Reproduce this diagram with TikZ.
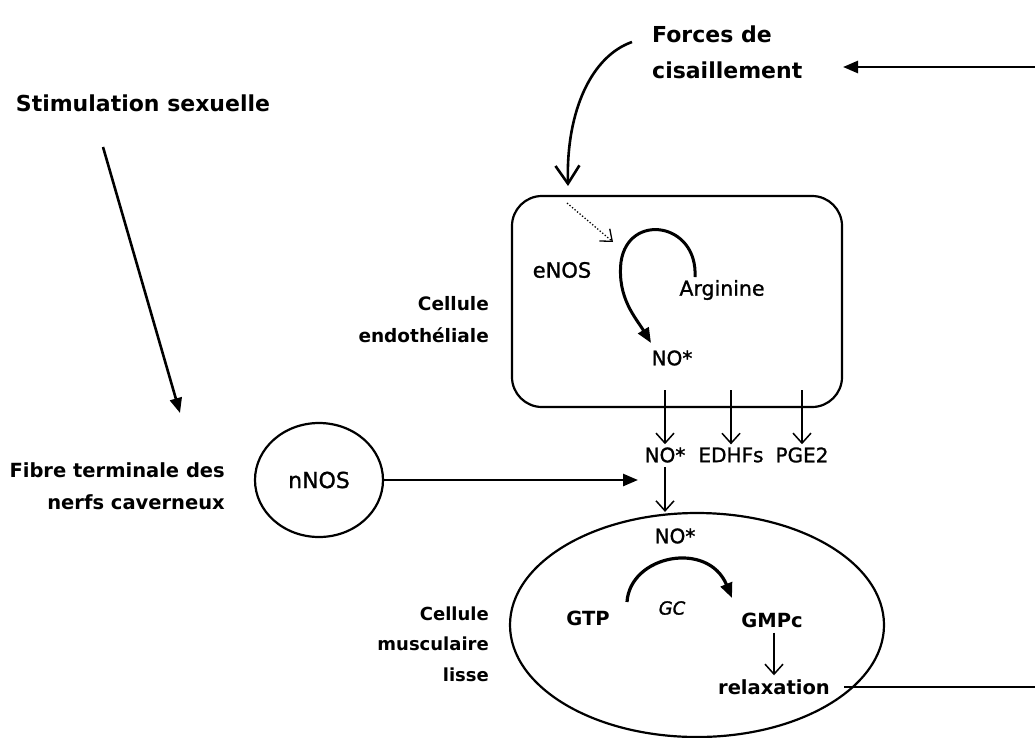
\documentclass[tikz,border=0pt]{standalone}
\usepackage{fontspec}
\setmainfont{DejaVu Sans}
\newfontfamily\medfont[FakeBold=1.2]{DejaVu Sans}
\usetikzlibrary{arrows.meta,shapes.geometric}
\tikzset{
  lbl/.style={font=\fontsize{19.5}{32}\selectfont\bfseries, inner sep=0pt},
  lblr/.style={font=\medfont\fontsize{20}{32}\selectfont, inner sep=0pt},
  thickarr/.style={line width=2.6pt, -{Triangle[length=15pt,width=12pt]}},
  thinarr/.style={line width=1.5pt, -{Straight Barb[length=10pt,width=18pt,line width=1.5pt]}},
  outline/.style={draw, line width=2.2pt}
}
\begin{document}
\begin{tikzpicture}[x=1pt,y=-1pt]
\useasboundingbox (0,0) rectangle (1035,737);

% texts
\node[lbl, font=\fontsize{22}{36}\selectfont\bfseries] (stim) at (143,103) {Stimulation sexuelle};
\node[lbl, font=\fontsize{22}{36}\selectfont\bfseries, align=left, anchor=west] (forces) at (652,52) {Forces de\\cisaillement};
\node[lbl, font=\fontsize{18.5}{32}\selectfont\bfseries, align=right, anchor=east] (cendo) at (489,320) {Cellule\\endothéliale};
\node[lbl, align=right, anchor=east] (fibre) at (225,486) {Fibre terminale des\\nerfs caverneux};
\node[lbl, font=\fontsize{18}{30.5}\selectfont\bfseries, align=right, anchor=east] (cmus) at (489,644) {Cellule\\musculaire\\lisse};

% endothelial cell
\node[outline, rounded corners=30pt, minimum width=330pt, minimum height=211pt] (endo) at (677,301.5) {};
\node[lblr, font=\medfont\fontsize{21}{24}\selectfont] (enos) at (562,270) {eNOS};
\node[lblr, font=\medfont\fontsize{20.5}{24}\selectfont] (arg) at (722,290) {Arginine};
\node[lblr] (noA) at (672,358) {NO*};

% products
\node[lblr] (noB) at (665,455) {NO*};
\node[lblr] (edhf) at (731,455) {EDHFs};
\node[lblr] (pge) at (802,455) {PGE2};

% smooth muscle cell
\node[outline, ellipse, minimum width=374pt, minimum height=224pt] (musc) at (697,625) {};
\node[lblr] (noC) at (675,536) {NO*};
\node[lbl] (gtp) at (588,618) {GTP};
\node[font=\medfont\fontsize{18}{20}\selectfont\itshape, inner sep=0pt] (gc) at (672,608) {GC};
\node[lbl] (gmpc) at (772,620) {GMPc};
\node[lbl] (relax) at (774,687) {relaxation};

% nerve
\node[outline, ellipse, minimum width=128pt, minimum height=114pt, font=\medfont\fontsize{22}{24}\selectfont] (nnos) at (319,480) {nNOS};

% coordinates for free ends
\coordinate (rtop) at (1035,67);
\coordinate (ftip) at (843,67);
\coordinate (rbot) at (1035,687);
\coordinate (fstart) at (632,42);
\coordinate (fend) at (568,186);
\coordinate (stimstart) at (103,147);
\coordinate (stimend) at (180,413);
\coordinate (dstart) at (567,203);
\coordinate (dend) at (613,242);
\coordinate (argstart) at (695,277);
\coordinate (noAend) at (651,343);
\coordinate (nntip) at (638,480);
\coordinate (gcstart) at (627,602);
\coordinate (gcend) at (732,598);
\coordinate (p1) at (665,390);
\coordinate (p2) at (731,390);
\coordinate (p3) at (802,390);

% connectors
\draw[thickarr] (stimstart) -- (stimend);
\draw[thickarr] (rtop) -- (ftip);
\draw[line width=2.6pt, -{Straight Barb[length=18pt,width=24pt,line width=2.6pt]}]
  (fstart) .. controls (592,56) and (566,110) .. (fend);
\draw[line width=1.3pt, dotted, -{Straight Barb[length=10pt,width=16pt,line width=1.3pt]}] (dstart) -- (dend);
\draw[thickarr, line width=3pt] (argstart) .. controls (698,222) and (628,212) .. (621,262) .. controls (617,298) and (636,318) .. (noAend);

\draw[thinarr, shorten >=3pt] (p1) -- (noB.north);
\draw[thinarr, shorten >=3pt] (p2) -- (edhf.north);
\draw[thinarr, shorten >=3pt] (p3) -- (pge.north);
\draw[thinarr, shorten <=4pt] (noB.south) -- (musc.north -| noB);
\draw[thickarr] (nnos.east) -- (nntip);

\draw[thickarr, line width=3.2pt] (gcstart) .. controls (630,555) and (708,540) .. (gcend);
\draw[thinarr, shorten <=5pt, shorten >=4pt] (gmpc.south -| relax.north) -- (relax.north);
\draw[line width=2.2pt] (relax.east) ++(14,0) -- (rbot);
\end{tikzpicture}
\end{document}
